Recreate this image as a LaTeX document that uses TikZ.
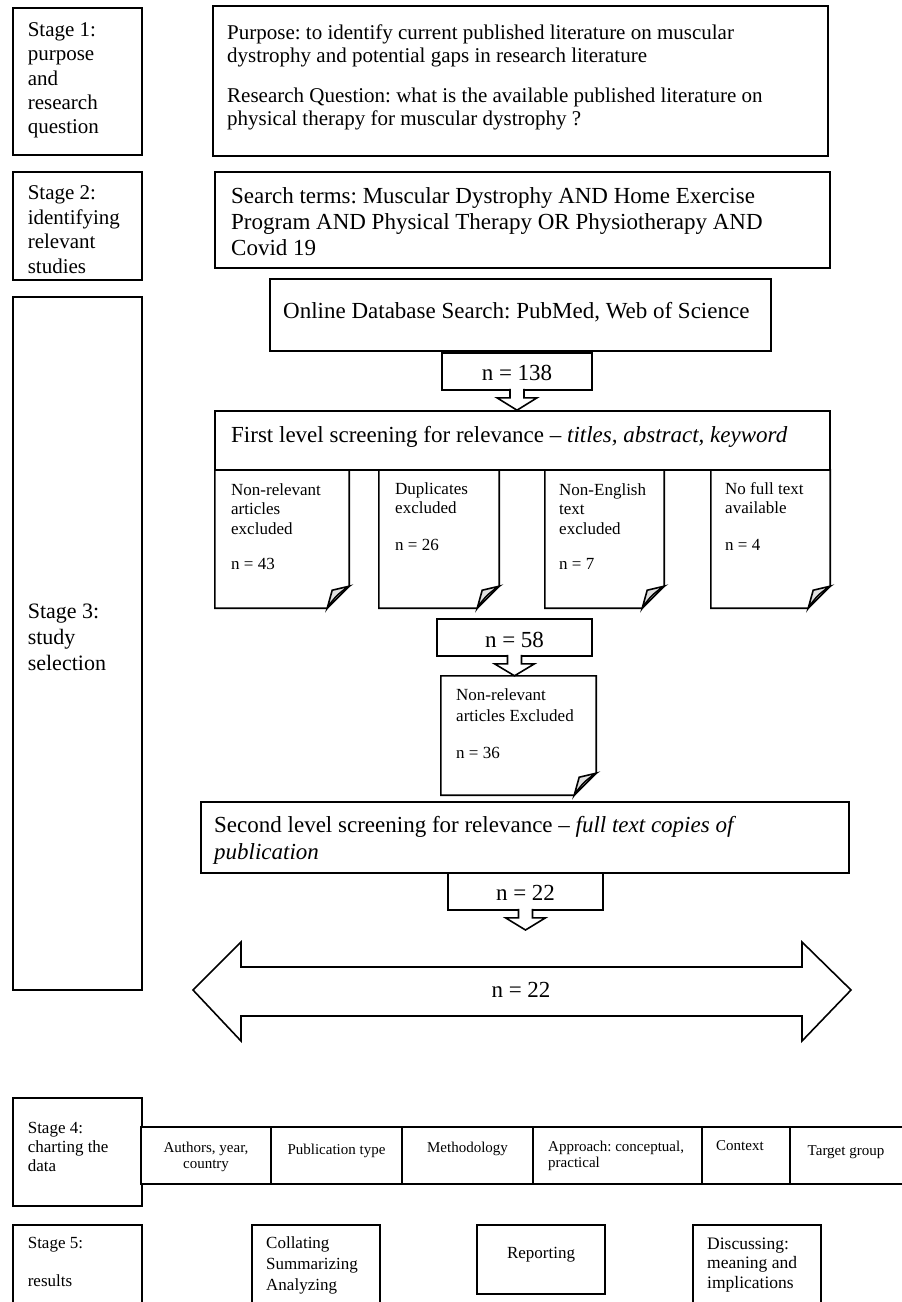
\documentclass[tikz,border=0pt]{standalone}
\usepackage{fontspec}
\setmainfont{Liberation Serif}
\usetikzlibrary{fit}
\frenchspacing
\newcommand\fszA{\fontsize{21pt}{24pt}\selectfont}
\newcommand\fszS{\fontsize{22pt}{26pt}\selectfont}
\newcommand\fszB{\fontsize{23pt}{26pt}\selectfont}
\newcommand\fszC{\fontsize{17pt}{19.5pt}\selectfont}
\newcommand\fszD{\fontsize{15pt}{16.5pt}\selectfont}
\newcommand\docpath[1]{%
  \draw[docline] (#1.north west) -- (#1.north east) -- ([yshift=22pt]#1.south east)
    -- ([xshift=-22pt]#1.south east) -- (#1.south west) -- cycle;
  \draw[docline, fill=black!12] ([yshift=22pt]#1.south east) -- ([xshift=-17pt,yshift=18pt]#1.south east)
    -- ([xshift=-22pt]#1.south east) to[bend left=12] cycle;}
\newcommand\blockarrow[2]{%
  \draw[arrowline] ([xshift=-7pt,yshift=2pt]#1) -- ([xshift=-7pt,yshift=-7pt]#1)
    -- ([xshift=-20pt,yshift=-7pt]#1) -- (#2) -- ([xshift=20pt,yshift=-7pt]#1)
    -- ([xshift=7pt,yshift=-7pt]#1) -- ([xshift=7pt,yshift=2pt]#1);}
\begin{document}
\begin{tikzpicture}[x=1pt,y=-1pt,
  box/.style={draw, line width=1.6pt, inner sep=0pt, fill=white},
  docbox/.style={inner sep=0pt},
  docline/.style={line width=1.6pt, line join=miter},
  arrowline/.style={line width=1.6pt, line join=miter, fill=white},
  txt/.style={inner sep=0pt, anchor=north west, align=left},
  ctxt/.style={inner sep=0pt, anchor=center, align=center}]
\useasboundingbox (0,0) rectangle (902,1302);
\fill[white] (0,0) rectangle (902,1302);

% Stage 1
\node[box, fit={(13,8) (142,155)}] (s1) {};
\node[txt, font=\fontsize{21pt}{24.2pt}\selectfont] (s1t) at (27.6,22.5) {Stage 1:\\purpose\\and\\research\\question};
\node[box, fit={(213,6) (828,156)}] (purpose) {};
\node[txt, font=\fontsize{21pt}{23pt}\selectfont] (purposet) at (227,24.5)
  {Purpose: to identify current published literature on muscular\\dystrophy and potential gaps in research literature\\[17pt]Research Question: what is the available published literature on\\physical therapy for muscular dystrophy ?};

% Stage 2
\node[box, fit={(13,172) (142,280)}] (s2) {};
\node[txt, font=\fontsize{21pt}{24.5pt}\selectfont] (s2t) at (27.6,185.5) {Stage 2:\\identifying\\relevant\\studies};
\node[box, fit={(215,172) (830,268)}] (search) {};
\node[txt, font=\fszB] (searcht) at (231,187.5)
  {Search terms: Muscular Dystrophy AND Home Exercise\\Program AND Physical Therapy OR Physiotherapy AND\\Covid 19};

% Stage 3
\node[box, fit={(13,297) (142,990)}] (s3) {};
\node[txt, font=\fszS] (s3t) at (27.6,604) {Stage 3:\\study\\selection};

\node[box, fit={(270,279) (771,351)}] (online) {};
\node[txt, font=\fszB] (onlinet) at (283,301.6) {Online Database Search: PubMed, Web of Science};

\node[box, fit={(442,353) (592,390)}] (n138) {};
\node[ctxt, font=\fszB] (n138t) at (517,373) {n = 138};

\node[box, fit={(215,411) (830,470)}] (first) {};
\node[txt, font=\fszB] (firstt) at (231,425.6) {First level screening for relevance -- \textit{titles, abstract, keyword}};
\blockarrow{n138.south}{n138.south |- first.north}

\node[docbox, fit={(215,470) (349,608)}] (d1) {};
\docpath{d1}
\node[txt, font=\fszC] (d1t) at (231,483.3) {Non-relevant\\articles\\excluded\\[15.5pt]n = 43};
\node[docbox, fit={(379,470) (499,608)}] (d2) {};
\docpath{d2}
\node[txt, font=\fszC] (d2t) at (395,482.3) {Duplicates\\excluded\\[17.5pt]n = 26};
\node[docbox, fit={(545,470) (664,608)}] (d3) {};
\docpath{d3}
\node[txt, font=\fszC] (d3t) at (559,483.3) {Non-English\\text\\excluded\\[15.5pt]n = 7};
\node[docbox, fit={(711,470) (830,608)}] (d4) {};
\docpath{d4}
\node[txt, font=\fszC] (d4t) at (725,482.3) {No full text\\available\\[17.5pt]n = 4};

\node[box, fit={(437,619) (592,656)}] (n58) {};
\node[ctxt, font=\fszB] (n58t) at (514.5,639.5) {n = 58};
\node[docbox, fit={(441,676) (596,795)}] (d5) {};
\docpath{d5}
\node[txt, font=\fontsize{17pt}{21pt}\selectfont] (d5t) at (456,688.3) {Non-relevant\\articles Excluded\\[16pt]n = 36};
\blockarrow{n58.south}{n58.south |- d5.north}

\node[box, fit={(201,802) (849,873)}] (second) {};
\node[txt, font=\fontsize{23pt}{27pt}\selectfont] (secondt) at (214,815.6)
  {Second level screening for relevance -- \textit{full text copies of}\\\textit{publication}};

\node[box, fit={(448,873) (603,910)}] (n22) {};
\node[ctxt, font=\fszB] (n22t) at (525.5,893) {n = 22};
\coordinate (tip3) at (525.5,930);
\blockarrow{n22.south}{tip3}

% double arrow
\draw[arrowline] (193,990) -- (241,942) -- (241,967) -- (802,967) -- (802,942) -- (851,990)
  -- (802,1041) -- (802,1016) -- (241,1016) -- (241,1041) -- cycle;
\node[ctxt, font=\fszB] (n22b) at (521,990) {n = 22};

% Stage 4
\node[box, fit={(13,1098) (142,1206)}] (s4) {};
\node[txt, font=\fontsize{17pt}{19pt}\selectfont] (s4t) at (27.6,1121.8) {Stage 4:\\charting the\\data};
\node[box, fit={(141,1127) (271,1184)}] (c1) {};
\node[box, fit={(271,1127) (402,1184)}] (c2) {};
\node[box, fit={(402,1127) (533,1184)}] (c3) {};
\node[box, fit={(533,1127) (702,1184)}] (c4) {};
\node[box, fit={(702,1127) (790,1184)}] (c5) {};
\node[box, fit={(790,1127) (905,1184)}] (c6) {};
\node[font=\fszD, inner sep=0pt, anchor=north, align=center] (c1t) at (206,1141.5) {Authors, year,\\country};
\node[ctxt, font=\fszD] (c2t) at (336.5,1151) {Publication type};
\node[ctxt, font=\fszD] (c3t) at (467.5,1149) {Methodology};
\node[txt, font=\fszD] (c4t) at (548,1140.5) {Approach: conceptual,\\practical};
\node[txt, font=\fszD] (c5t) at (716,1140.5) {Context};
\node[ctxt, font=\fszD] (c6t) at (846,1152) {Target group};

% Stage 5
\node[box, fit={(13,1225) (142,1312)}] (s5) {};
\node[txt, font=\fontsize{17pt}{17pt}\selectfont] (s5t) at (27.6,1237.5) {Stage 5:\\[21pt]results};
\node[box, fit={(252,1225) (380,1312)}] (collate) {};
\node[txt, font=\fontsize{17pt}{21pt}\selectfont] (collatet) at (266,1236.8) {Collating\\Summarizing\\Analyzing};
\node[box, fit={(477,1225) (605,1294)}] (report) {};
\node[ctxt, font=\fontsize{17pt}{20pt}\selectfont] (reportt) at (541,1255) {Reporting};
\node[box, fit={(693,1225) (821,1312)}] (discuss) {};
\node[txt, font=\fontsize{17.5pt}{19.5pt}\selectfont] (discusst) at (707,1237.5) {Discussing:\\meaning and\\implications};
\end{tikzpicture}
\end{document}
